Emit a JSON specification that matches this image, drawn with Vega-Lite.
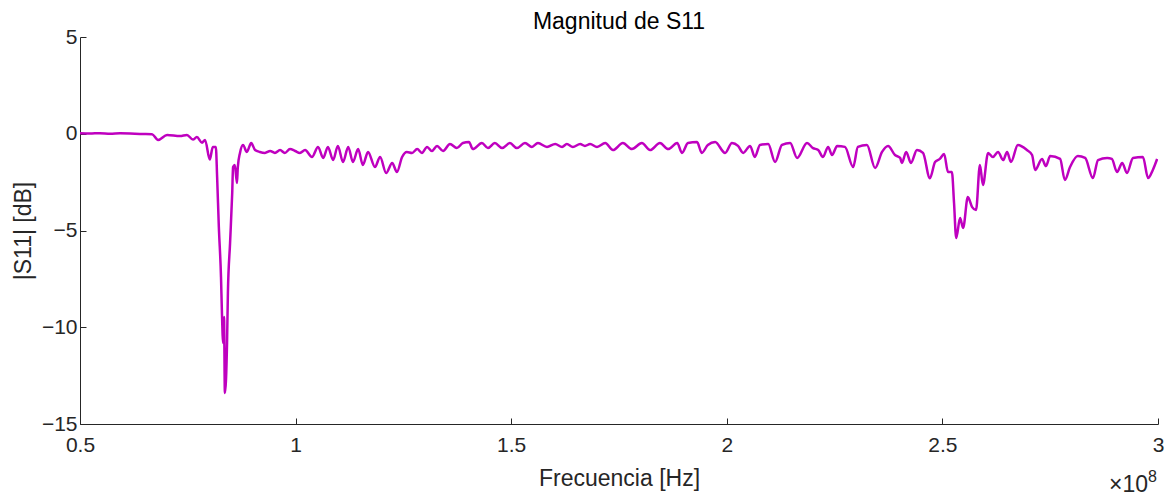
{
  "$schema": "https://vega.github.io/schema/vega-lite/v6.json",
  "autosize": "none",
  "width": 1078,
  "height": 387,
  "padding": {"left": 80, "top": 37, "right": 10, "bottom": 73},
  "background": "white",
  "config": {
    "font": "Liberation Sans",
    "view": {"stroke": null},
    "axis": {
      "grid": false,
      "domainColor": "#262626",
      "tickColor": "#262626",
      "labelColor": "#262626",
      "titleColor": "#262626",
      "labelFontSize": 21,
      "titleFontSize": 23,
      "titleFontWeight": "normal",
      "labelFont": "Liberation Sans",
      "titleFont": "Liberation Sans",
      "tickSize": -6,
      "domainWidth": 1,
      "tickWidth": 1
    }
  },
  "title": {"text": "Magnitud de S11", "fontSize": 23, "fontWeight": "normal", "font": "Liberation Sans", "color": "#000000", "anchor": "middle", "baseline": "alphabetic", "offset": -26},
  "layer": [
    {
      "data": {"values": [
        {"f": 0.500e8, "s": 0.02}, {"f": 0.523e8, "s": 0.01}, {"f": 0.546e8, "s": 0.03}, {"f": 0.570e8, "s": 0.00},
        {"f": 0.593e8, "s": 0.02}, {"f": 0.616e8, "s": 0.01}, {"f": 0.639e8, "s": -0.01}, {"f": 0.667e8, "s": -0.02},
        {"f": 0.681e8, "s": -0.32}, {"f": 0.702e8, "s": -0.06}, {"f": 0.732e8, "s": -0.12}, {"f": 0.748e8, "s": -0.06},
        {"f": 0.762e8, "s": -0.30}, {"f": 0.771e8, "s": -0.17}, {"f": 0.783e8, "s": -0.46}, {"f": 0.790e8, "s": -0.32},
        {"f": 0.801e8, "s": -1.33}, {"f": 0.808e8, "s": -0.68}, {"f": 0.815e8, "s": -0.68}, {"f": 0.818e8, "s": -2.23},
        {"f": 0.822e8, "s": -4.82}, {"f": 0.827e8, "s": -7.41}, {"f": 0.829e8, "s": -9.11}, {"f": 0.832e8, "s": -10.82},
        {"f": 0.834e8, "s": -9.47}, {"f": 0.836e8, "s": -13.40}, {"f": 0.841e8, "s": -10.82}, {"f": 0.843e8, "s": -8.23},
        {"f": 0.848e8, "s": -5.65}, {"f": 0.853e8, "s": -3.06}, {"f": 0.855e8, "s": -1.72}, {"f": 0.859e8, "s": -1.61},
        {"f": 0.864e8, "s": -2.55}, {"f": 0.866e8, "s": -1.72}, {"f": 0.871e8, "s": -0.99}, {"f": 0.878e8, "s": -0.58},
        {"f": 0.887e8, "s": -0.94}, {"f": 0.897e8, "s": -0.48}, {"f": 0.906e8, "s": -0.84}, {"f": 0.917e8, "s": -0.94},
        {"f": 0.929e8, "s": -0.99}, {"f": 0.941e8, "s": -0.89}, {"f": 0.952e8, "s": -0.99}, {"f": 0.964e8, "s": -0.84},
        {"f": 0.975e8, "s": -0.99}, {"f": 0.987e8, "s": -0.79}, {"f": 0.999e8, "s": -0.89}, {"f": 1.010e8, "s": -0.99},
        {"f": 1.022e8, "s": -0.84}, {"f": 1.038e8, "s": -1.20}, {"f": 1.052e8, "s": -0.68}, {"f": 1.064e8, "s": -1.25},
        {"f": 1.075e8, "s": -0.68}, {"f": 1.087e8, "s": -1.36}, {"f": 1.098e8, "s": -0.63}, {"f": 1.110e8, "s": -1.46},
        {"f": 1.122e8, "s": -0.68}, {"f": 1.133e8, "s": -1.46}, {"f": 1.145e8, "s": -0.79}, {"f": 1.156e8, "s": -1.61},
        {"f": 1.168e8, "s": -0.94}, {"f": 1.184e8, "s": -1.72}, {"f": 1.196e8, "s": -1.20}, {"f": 1.210e8, "s": -2.03},
        {"f": 1.224e8, "s": -1.51}, {"f": 1.235e8, "s": -1.98}, {"f": 1.247e8, "s": -1.20}, {"f": 1.258e8, "s": -0.94},
        {"f": 1.270e8, "s": -0.99}, {"f": 1.282e8, "s": -0.79}, {"f": 1.293e8, "s": -0.99}, {"f": 1.305e8, "s": -0.68},
        {"f": 1.316e8, "s": -0.89}, {"f": 1.328e8, "s": -0.63}, {"f": 1.342e8, "s": -0.89}, {"f": 1.358e8, "s": -0.53},
        {"f": 1.374e8, "s": -0.74}, {"f": 1.388e8, "s": -0.48}, {"f": 1.402e8, "s": -0.43}, {"f": 1.411e8, "s": -0.79},
        {"f": 1.432e8, "s": -0.48}, {"f": 1.446e8, "s": -0.74}, {"f": 1.462e8, "s": -0.48}, {"f": 1.479e8, "s": -0.74},
        {"f": 1.497e8, "s": -0.48}, {"f": 1.513e8, "s": -0.74}, {"f": 1.532e8, "s": -0.48}, {"f": 1.548e8, "s": -0.68},
        {"f": 1.562e8, "s": -0.48}, {"f": 1.583e8, "s": -0.68}, {"f": 1.602e8, "s": -0.53}, {"f": 1.618e8, "s": -0.68},
        {"f": 1.629e8, "s": -0.53}, {"f": 1.643e8, "s": -0.68}, {"f": 1.660e8, "s": -0.53}, {"f": 1.671e8, "s": -0.63},
        {"f": 1.683e8, "s": -0.53}, {"f": 1.699e8, "s": -0.68}, {"f": 1.718e8, "s": -0.48}, {"f": 1.736e8, "s": -0.84},
        {"f": 1.759e8, "s": -0.48}, {"f": 1.780e8, "s": -0.79}, {"f": 1.803e8, "s": -0.48}, {"f": 1.822e8, "s": -0.84},
        {"f": 1.845e8, "s": -0.48}, {"f": 1.864e8, "s": -0.79}, {"f": 1.885e8, "s": -0.48}, {"f": 1.896e8, "s": -0.99},
        {"f": 1.910e8, "s": -0.48}, {"f": 1.931e8, "s": -0.43}, {"f": 1.942e8, "s": -0.99}, {"f": 1.956e8, "s": -0.58},
        {"f": 1.973e8, "s": -0.43}, {"f": 1.996e8, "s": -0.99}, {"f": 2.012e8, "s": -0.48}, {"f": 2.026e8, "s": -0.63},
        {"f": 2.038e8, "s": -0.99}, {"f": 2.054e8, "s": -0.63}, {"f": 2.065e8, "s": -1.20}, {"f": 2.077e8, "s": -0.58},
        {"f": 2.096e8, "s": -0.53}, {"f": 2.112e8, "s": -1.46}, {"f": 2.128e8, "s": -0.58}, {"f": 2.147e8, "s": -0.48},
        {"f": 2.163e8, "s": -1.25}, {"f": 2.186e8, "s": -0.48}, {"f": 2.200e8, "s": -0.74}, {"f": 2.212e8, "s": -0.84},
        {"f": 2.223e8, "s": -1.20}, {"f": 2.235e8, "s": -0.68}, {"f": 2.244e8, "s": -1.10}, {"f": 2.256e8, "s": -0.63},
        {"f": 2.274e8, "s": -0.68}, {"f": 2.293e8, "s": -1.72}, {"f": 2.304e8, "s": -0.68}, {"f": 2.325e8, "s": -0.58},
        {"f": 2.344e8, "s": -1.77}, {"f": 2.360e8, "s": -0.94}, {"f": 2.374e8, "s": -0.63}, {"f": 2.390e8, "s": -1.10},
        {"f": 2.402e8, "s": -1.25}, {"f": 2.406e8, "s": -1.51}, {"f": 2.416e8, "s": -0.94}, {"f": 2.427e8, "s": -1.51},
        {"f": 2.441e8, "s": -0.84}, {"f": 2.455e8, "s": -0.99}, {"f": 2.471e8, "s": -2.30}, {"f": 2.483e8, "s": -1.46},
        {"f": 2.494e8, "s": -1.30}, {"f": 2.504e8, "s": -1.05}, {"f": 2.513e8, "s": -1.98}, {"f": 2.522e8, "s": -1.98},
        {"f": 2.527e8, "s": -3.58}, {"f": 2.532e8, "s": -5.39}, {"f": 2.541e8, "s": -4.36}, {"f": 2.548e8, "s": -4.87},
        {"f": 2.559e8, "s": -3.27}, {"f": 2.569e8, "s": -3.79}, {"f": 2.578e8, "s": -3.94}, {"f": 2.587e8, "s": -1.61},
        {"f": 2.594e8, "s": -2.65}, {"f": 2.606e8, "s": -0.99}, {"f": 2.617e8, "s": -1.20}, {"f": 2.629e8, "s": -0.94},
        {"f": 2.641e8, "s": -1.36}, {"f": 2.650e8, "s": -0.94}, {"f": 2.659e8, "s": -1.46}, {"f": 2.675e8, "s": -0.58},
        {"f": 2.696e8, "s": -0.84}, {"f": 2.708e8, "s": -1.10}, {"f": 2.715e8, "s": -1.87}, {"f": 2.731e8, "s": -1.30},
        {"f": 2.740e8, "s": -1.67}, {"f": 2.750e8, "s": -1.15}, {"f": 2.773e8, "s": -1.30}, {"f": 2.784e8, "s": -2.39},
        {"f": 2.796e8, "s": -1.72}, {"f": 2.814e8, "s": -1.15}, {"f": 2.831e8, "s": -1.25}, {"f": 2.849e8, "s": -2.29},
        {"f": 2.861e8, "s": -1.36}, {"f": 2.882e8, "s": -1.25}, {"f": 2.893e8, "s": -1.30}, {"f": 2.905e8, "s": -1.98},
        {"f": 2.917e8, "s": -1.51}, {"f": 2.928e8, "s": -2.03}, {"f": 2.942e8, "s": -1.25}, {"f": 2.965e8, "s": -1.20},
        {"f": 2.977e8, "s": -2.29}, {"f": 2.988e8, "s": -1.87}, {"f": 2.998e8, "s": -1.30}
      ]},
      "mark": {"type": "line", "color": "#BF00BF", "strokeWidth": 2.5, "interpolate": "monotone", "clip": true},
      "encoding": {
        "x": {"field": "f", "type": "quantitative", "scale": {"domain": [50000000, 300000000], "nice": false, "zero": false},
          "axis": {"title": "Frecuencia [Hz]", "values": [50000000, 100000000, 150000000, 200000000, 250000000, 300000000],
            "labelExpr": "format(datum.value / 100000000, '~g')", "labelPadding": 16, "titlePadding": 12, "labelFlush": false}},
        "y": {"field": "s", "type": "quantitative", "scale": {"domain": [-15, 5], "nice": false, "zero": false},
          "axis": {"title": "|S11| [dB]", "values": [-15, -10, -5, 0, 5], "labelPadding": 9, "titlePadding": 6}}
      }
    },
    {
      "data": {"values": [{"f": 300000000, "s": -15, "t": "×10"}]},
      "mark": {"type": "text", "align": "right", "baseline": "alphabetic", "dx": -10, "dy": 68, "fontSize": 23, "font": "Liberation Sans", "color": "#262626"},
      "encoding": {
        "x": {"field": "f", "type": "quantitative"},
        "y": {"field": "s", "type": "quantitative"},
        "text": {"field": "t"}
      }
    },
    {
      "data": {"values": [{"f": 300000000, "s": -15, "t": "8"}]},
      "mark": {"type": "text", "align": "left", "baseline": "alphabetic", "dx": -10, "dy": 58, "fontSize": 16, "font": "Liberation Sans", "color": "#262626"},
      "encoding": {
        "x": {"field": "f", "type": "quantitative"},
        "y": {"field": "s", "type": "quantitative"},
        "text": {"field": "t"}
      }
    }
  ]
}
